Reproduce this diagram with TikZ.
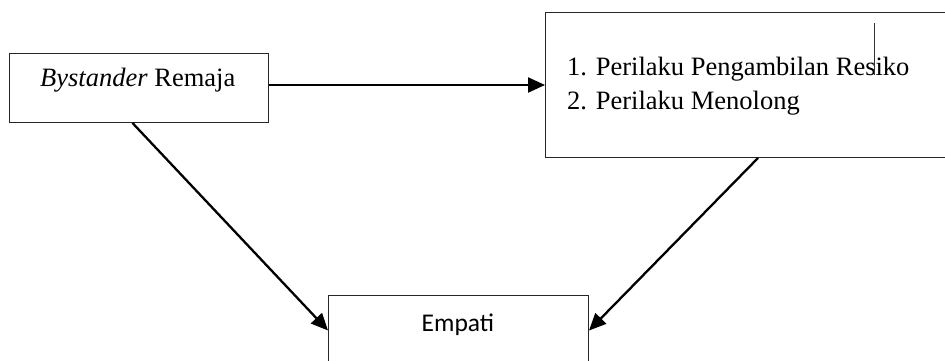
\documentclass[tikz,border=0pt]{standalone}
\usepackage{fontspec}
\setmainfont{Liberation Serif}
\newfontfamily\carlito{Carlito}
\usetikzlibrary{arrows.meta,calc}
\tikzset{
  boxnode/.style={draw=black!85, line width=1pt, fill=white, anchor=north west, inner sep=0pt},
  txt/.style={anchor=base west, inner sep=0pt, font=\fontsize{26.5}{35}\selectfont},
  arr/.style={line width=2.3pt, -{Triangle[length=17pt,width=15pt]}}
}
\begin{document}
\begin{tikzpicture}[x=1pt,y=-1pt]
\useasboundingbox (0,0) rectangle (945,361);
% boxes
\node[boxnode, minimum width=259pt, minimum height=69pt] (by) at (9,53) {};
\node[boxnode, minimum width=410pt, minimum height=145pt] (rb) at (545,12) {};
\node[boxnode, minimum width=260pt, minimum height=80pt] (emp) at (328,295) {};
% texts
\node[txt] (byt) at (40,87) {\textit{Bystander} Remaja};
\node[txt] (l1) at (567,75) {1. Perilaku Pengambilan Resiko};
\node[txt] (l2) at (567,110) {2. Perilaku Menolong};
\node[txt, font=\carlito\fontsize{25.5}{30}\selectfont] (empt) at (421.5,331.5) {Empati};
% cursor mark
\coordinate (c1) at (874,23);
\coordinate (c2) at (874,75);
\draw[line width=1pt, black!80] (c1) -- (c2);
% arrows
\draw[arr] (by.east |- rb.west) -- (rb.west);
\draw[arr] ([xshift=-6.5pt]by.south) -- ([yshift=5pt]emp.west);
\draw[arr] ([xshift=7.5pt]rb.south) -- ([yshift=5pt]emp.east);
\end{tikzpicture}
\end{document}
